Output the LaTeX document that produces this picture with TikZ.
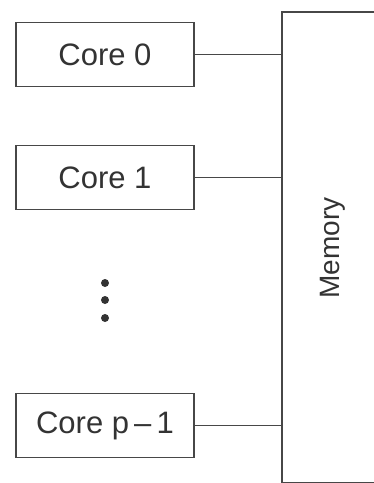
\documentclass[tikz,border=0pt]{standalone}
\usepackage{fontspec}
\setmainfont{Liberation Sans}
\begin{document}
\begin{tikzpicture}[x=1pt,y=-1pt,
  line/.style={draw=black!72,line width=1.9pt},
  corebox/.style={line,rectangle,minimum width=178pt,minimum height=64pt,inner sep=0pt,
    font=\fontsize{31}{34}\selectfont,text=black!80},
  dot/.style={circle,fill=black!80,inner sep=0pt,minimum size=8pt}]
\useasboundingbox (0,0) rectangle (374,483);
\begin{scope}
\clip (0,0) rectangle (374,483);
\node[line,rectangle,inner sep=0pt,minimum width=110pt,minimum height=471pt,anchor=north west]
  (mem) at (281,11) {};
\node[rotate=90,font=\fontsize{28}{32}\selectfont,text=black!80] (memtxt) at (333,248) {Memory};
\end{scope}
\node[corebox] (c0) at (105,54.5) {Core 0};
\node[corebox] (c1) at (105,177.5) {Core 1};
\node[corebox] (cp) at (105,425.5) {Core p\,\textendash\,1};
\node[dot] (d1) at (105,283) {};
\node[dot] (d2) at (105,300) {};
\node[dot] (d3) at (105,318) {};
\draw[line] (c0.east) -- (c0.east -| mem.west);
\draw[line] (c1.east) -- (c1.east -| mem.west);
\draw[line] (cp.east) -- (cp.east -| mem.west);
\end{tikzpicture}
\end{document}
